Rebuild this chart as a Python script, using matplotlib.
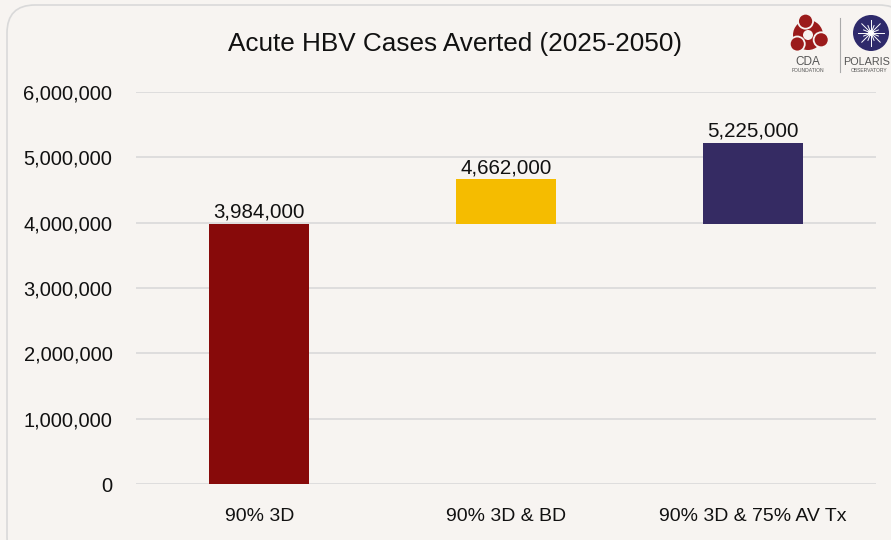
import matplotlib
matplotlib.use("Agg")
import matplotlib.pyplot as plt
from matplotlib.patches import FancyBboxPatch, Circle
from matplotlib.ticker import FuncFormatter
import numpy as np

plt.rcParams['font.family'] = ['Liberation Sans', 'DejaVu Sans']

categories = ["90% 3D", "90% 3D & BD", "90% 3D & 75% AV Tx"]
tops = [3984000, 4662000, 5225000]
bottoms = [0, 3984000, 3984000]
labels = ["3,984,000", "4,662,000", "5,225,000"]
colors = ["#870a0a", "#f5bc00", "#352b63"]
yticks = [0, 1000000, 2000000, 3000000, 4000000, 5000000, 6000000]

bg = "#f7f4f1"
fig = plt.figure(figsize=(8.91, 5.4), dpi=100)
fig.patch.set_facecolor(bg)

# overlay in pixel coordinates for border
ov = fig.add_axes([0, 0, 1, 1], zorder=-1)
ov.set_xlim(0, 891)
ov.set_ylim(540, 0)
ov.axis("off")
ov.add_patch(FancyBboxPatch((7, 5), 900, 560, boxstyle="round,pad=0,rounding_size=28",
                            facecolor=bg, edgecolor="#d9d9d9", linewidth=1.2))

ax = fig.add_axes([136/891, 56/540, 740/891, 392/540])
ax.set_facecolor("none")
x = np.arange(len(categories))
heights = [t - b for t, b in zip(tops, bottoms)]
ax.bar(x, heights, bottom=bottoms, width=0.405, color=colors, zorder=3)
for xi, t, lab in zip(x, tops, labels):
    ax.text(xi, t + 30000, lab, ha="center", va="bottom", fontsize=14.8, color="#111111", zorder=4)

ax.set_xlim(-0.5, 2.5)
ax.set_ylim(0, 6000000)
ax.set_yticks(yticks)
ax.yaxis.set_major_formatter(FuncFormatter(lambda v, p: f"{int(v):,}"))
ax.set_xticks(x)
ax.set_xticklabels(categories)
ax.tick_params(axis="both", length=0, colors="#111111")
ax.tick_params(axis="y", pad=17, labelsize=14.5)
ax.tick_params(axis="x", pad=17, labelsize=14)
ax.grid(axis="y", color="#d9d9d9", linewidth=1.2, zorder=0)
for s in ax.spines.values():
    s.set_visible(False)

fig.text(455/891, 1 - 44/540, "Acute HBV Cases Averted (2025-2050)", ha="center", va="center",
         fontsize=18.8, color="#111111")

# logos (approximate), drawn in a top pixel overlay
lo = fig.add_axes([0, 0, 1, 1], zorder=5)
lo.set_xlim(0, 891)
lo.set_ylim(540, 0)
lo.axis("off")
cx, cy = 808, 35
lo.add_patch(Circle((cx, cy), 15, facecolor="#9b1b1b", edgecolor="none"))
for ang in [100, 220, 340]:
    a = np.deg2rad(ang)
    lo.add_patch(Circle((cx + 14*np.cos(a), cy - 14*np.sin(a)), 7.5, facecolor="#9b1b1b",
                        edgecolor=bg, linewidth=1.3))
lo.add_patch(Circle((cx, cy), 5, facecolor=bg, edgecolor="none"))
lo.text(cx, 62, "CDA", ha="center", va="center", fontsize=8.5, color="#555555")
lo.text(cx, 71, "FOUNDATION", ha="center", va="center", fontsize=3.6, color="#555555")
lo.plot([840, 840], [18, 72], color="#aaaaaa", lw=0.8)
pxc, pyc = 871, 33
lo.add_patch(Circle((pxc, pyc), 18, facecolor="#2e2a6b", edgecolor="none"))
for ang in np.arange(0, 180, 22.5):
    a = np.deg2rad(ang)
    r = 13 if ang % 45 == 0 else 8
    lo.plot([pxc - r*np.cos(a), pxc + r*np.cos(a)], [pyc - r*np.sin(a), pyc + r*np.sin(a)],
            color="white", lw=0.7)
lo.add_patch(Circle((pxc, pyc), 3, facecolor="white", edgecolor="none"))
lo.text(843, 62, "POLARIS", ha="left", va="center", fontsize=7.8, color="#555555")
lo.text(851, 71, "OBSERVATORY", ha="left", va="center", fontsize=3.6, color="#555555")

fig.savefig("out.png", dpi=100, facecolor=bg)
